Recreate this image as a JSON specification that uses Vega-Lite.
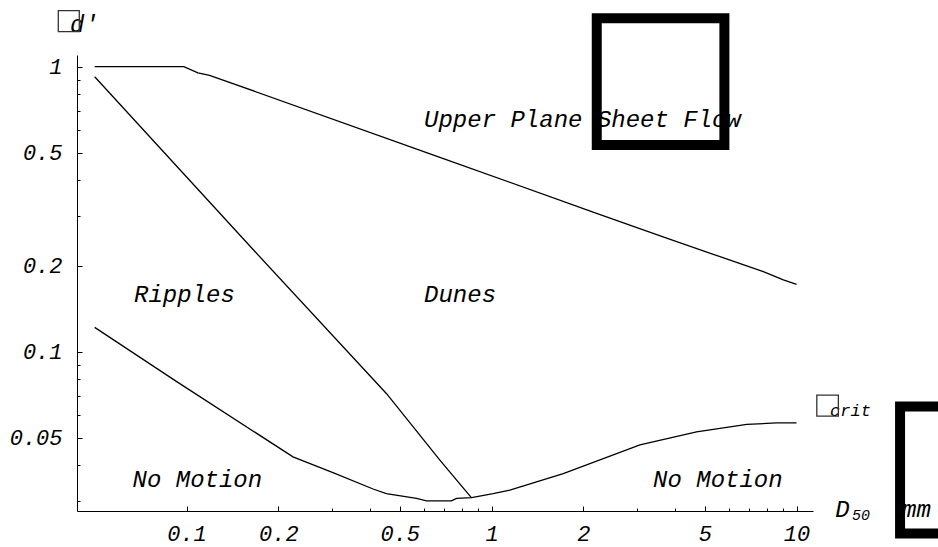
{
  "$schema": "https://vega.github.io/schema/vega-lite/v6.json",
  "width": 736,
  "height": 456,
  "autosize": {"type": "none"},
  "padding": {"left": 77, "top": 55, "right": 125, "bottom": 36},
  "background": "white",
  "config": {"view": {"stroke": null}},
  "datasets": {
    "curves": [
      {"s": "sheet", "D": 0.05, "t": 1},
      {"s": "sheet", "D": 0.098, "t": 1},
      {"s": "sheet", "D": 0.109, "t": 0.952},
      {"s": "sheet", "D": 0.119, "t": 0.933},
      {"s": "sheet", "D": 0.677, "t": 0.481},
      {"s": "sheet", "D": 2.21, "t": 0.306},
      {"s": "sheet", "D": 3.65, "t": 0.253},
      {"s": "sheet", "D": 5.61, "t": 0.2155},
      {"s": "sheet", "D": 7.78, "t": 0.191},
      {"s": "sheet", "D": 9.05, "t": 0.1786},
      {"s": "sheet", "D": 10, "t": 0.1723},
      {"s": "ripple", "D": 0.05, "t": 0.922},
      {"s": "ripple", "D": 0.165, "t": 0.2288},
      {"s": "ripple", "D": 0.452, "t": 0.0714},
      {"s": "ripple", "D": 0.677, "t": 0.0417},
      {"s": "ripple", "D": 0.86, "t": 0.0307},
      {"s": "crit", "D": 0.05, "t": 0.1218},
      {"s": "crit", "D": 0.0926, "t": 0.0787},
      {"s": "crit", "D": 0.2234, "t": 0.0428},
      {"s": "crit", "D": 0.302, "t": 0.0377},
      {"s": "crit", "D": 0.409, "t": 0.033},
      {"s": "crit", "D": 0.452, "t": 0.0318},
      {"s": "crit", "D": 0.5675, "t": 0.0306},
      {"s": "crit", "D": 0.612, "t": 0.03},
      {"s": "crit", "D": 0.739, "t": 0.03},
      {"s": "crit", "D": 0.768, "t": 0.0306},
      {"s": "crit", "D": 0.86, "t": 0.0308},
      {"s": "crit", "D": 1.012, "t": 0.0318},
      {"s": "crit", "D": 1.148, "t": 0.0327},
      {"s": "crit", "D": 1.718, "t": 0.0374},
      {"s": "crit", "D": 3.065, "t": 0.0471},
      {"s": "crit", "D": 4.7, "t": 0.0524},
      {"s": "crit", "D": 6.865, "t": 0.0556},
      {"s": "crit", "D": 8.61, "t": 0.0563},
      {"s": "crit", "D": 10, "t": 0.0563}
    ],
    "labels": [
      {"grp": "main", "label": "Upper Plane Sheet Flow", "D": 0.6008, "t": 0.6168},
      {"grp": "main", "label": "Ripples", "D": 0.0673, "t": 0.15003},
      {"grp": "main", "label": "Dunes", "D": 0.6008, "t": 0.15003},
      {"grp": "main", "label": "No Motion", "D": 0.06653, "t": 0.03365},
      {"grp": "main", "label": "No Motion", "D": 3.384, "t": 0.03365},
      {"grp": "main", "label": "d'", "D": 0.0415, "t": 1.327},
      {"grp": "main", "label": "D", "D": 13.4, "t": 0.02637},
      {"grp": "main", "label": "mm", "D": 22.18, "t": 0.02637},
      {"grp": "small", "label": "crit", "D": 12.88, "t": 0.05948},
      {"grp": "sub", "label": "50", "D": 15.2, "t": 0.02567}
    ],
    "boxes": [
      {"grp": "small", "D": 0.03799, "D2": 0.04451, "t": 1.572, "t2": 1.327},
      {"grp": "small", "D": 11.65, "D2": 13.71, "t": 0.07047, "t2": 0.05948},
      {"grp": "big", "D": 2.2127, "D2": 5.799, "t": 1.4785, "t2": 0.5311},
      {"grp": "big", "D": 21.84, "D2": 61.44, "t": 0.06422, "t2": 0.02306}
    ]
  },
  "encoding": {
    "x": {
      "field": "D",
      "type": "quantitative",
      "scale": {"type": "log", "domain": [0.04375, 11.32], "nice": false, "zero": false},
      "axis": {
        "title": null,
        "grid": false,
        "values": [0.1, 0.2, 0.3, 0.4, 0.5, 0.6, 0.7, 0.8, 0.9, 1, 2, 3, 4, 5, 6, 7, 8, 9, 10],
        "labelExpr": "indexof([0.1,0.2,0.5,1,2,5,10], datum.value) >= 0 ? '' + datum.value : ''",
        "tickSize": {"condition": {"test": "indexof([0.1,0.2,0.5,1,2,5,10], datum.value) >= 0", "value": -5}, "value": -3},
        "tickColor": "black",
        "tickWidth": 1,
        "domainColor": "black",
        "domainWidth": 1,
        "labelFont": "Courier New, Courier, Liberation Mono",
        "labelFontStyle": "italic",
        "labelFontSize": 22,
        "labelColor": "black",
        "labelPadding": 17,
        "labelOverlap": false,
        "labelFlush": false,
        "labelBound": false
      }
    },
    "y": {
      "field": "t",
      "type": "quantitative",
      "scale": {"type": "log", "domain": [0.02763, 1.099], "nice": false, "zero": false},
      "axis": {
        "title": null,
        "grid": false,
        "values": [0.03, 0.04, 0.05, 0.06, 0.07, 0.08, 0.09, 0.1, 0.2, 0.3, 0.4, 0.5, 0.6, 0.7, 0.8, 0.9, 1],
        "labelExpr": "indexof([0.05,0.1,0.2,0.5,1], datum.value) >= 0 ? '' + datum.value : ''",
        "tickSize": {"condition": {"test": "indexof([0.05,0.1,0.2,0.5,1], datum.value) >= 0", "value": -5}, "value": -3},
        "tickColor": "black",
        "tickWidth": 1,
        "domainColor": "black",
        "domainWidth": 1,
        "labelFont": "Courier New, Courier, Liberation Mono",
        "labelFontStyle": "italic",
        "labelFontSize": 22,
        "labelColor": "black",
        "labelPadding": 20,
        "labelOverlap": false,
        "labelFlush": false,
        "labelBound": false
      }
    }
  },
  "layer": [
    {
      "data": {"name": "curves"},
      "mark": {"type": "line", "color": "black", "strokeWidth": 1.3},
      "encoding": {"detail": {"field": "s"}}
    },
    {
      "data": {"name": "labels"},
      "transform": [{"filter": "datum.grp == 'main'"}],
      "mark": {"type": "text", "font": "Courier New, Courier, Liberation Mono", "fontStyle": "italic", "fontSize": 24, "align": "left", "baseline": "alphabetic", "color": "black"},
      "encoding": {"text": {"field": "label"}}
    },
    {
      "data": {"name": "labels"},
      "transform": [{"filter": "datum.grp == 'small'"}],
      "mark": {"type": "text", "font": "Courier New, Courier, Liberation Mono", "fontStyle": "italic", "fontSize": 17, "align": "left", "baseline": "alphabetic", "color": "black"},
      "encoding": {"text": {"field": "label"}}
    },
    {
      "data": {"name": "labels"},
      "transform": [{"filter": "datum.grp == 'sub'"}],
      "mark": {"type": "text", "font": "Courier New, Courier, Liberation Mono", "fontStyle": "italic", "fontSize": 15, "align": "left", "baseline": "alphabetic", "color": "black"},
      "encoding": {"text": {"field": "label"}}
    },
    {
      "data": {"name": "boxes"},
      "transform": [{"filter": "datum.grp == 'small'"}],
      "mark": {"type": "rect", "filled": false, "stroke": "#333333", "strokeWidth": 1.3},
      "encoding": {"x2": {"field": "D2"}, "y2": {"field": "t2"}}
    },
    {
      "data": {"name": "boxes"},
      "transform": [{"filter": "datum.grp == 'big'"}],
      "mark": {"type": "rect", "filled": false, "stroke": "black", "strokeWidth": 10},
      "encoding": {"x2": {"field": "D2"}, "y2": {"field": "t2"}}
    }
  ]
}
